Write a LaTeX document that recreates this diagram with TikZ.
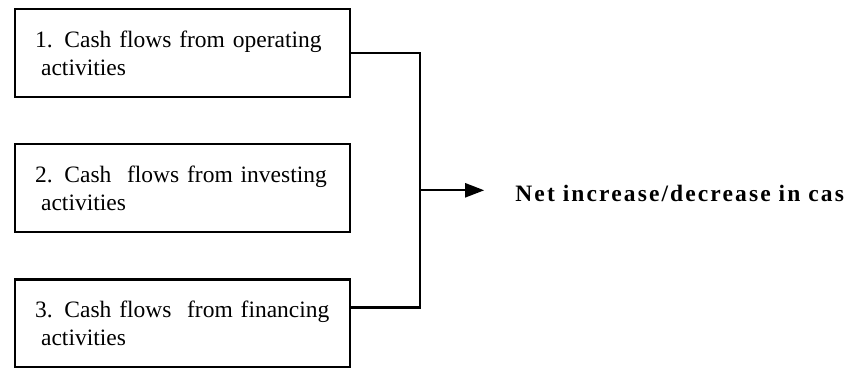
\documentclass[tikz,border=0pt]{standalone}
\usepackage{fontspec}
\setmainfont{Liberation Serif}
\usepackage{tikz}
\usetikzlibrary{arrows.meta,positioning}

\begin{document}
\begin{tikzpicture}[
    x=1pt, y=-1pt,
    node distance=45pt and 69pt,
    every node/.style={font=\fontsize{23.5}{28}\selectfont},
    flowbox/.style={rectangle, draw=black, line width=2.2pt, text width=295pt, inner xsep=20pt, minimum height=88pt, align=left},
    resultlabel/.style={inner sep=0pt, anchor=west, font=\fontsize{23.5}{28}\selectfont\bfseries\addfontfeature{LetterSpace=9}},
    wire/.style={line width=2.2pt, draw=black},
    arr/.style={-{Triangle[length=19pt, width=14pt]}, line width=2.2pt, draw=black, shorten >=31pt}
]
\useasboundingbox (0,0) rectangle (850,367);

\node[flowbox, anchor=north west] (operating) at (14,8) {1. Cash flows from operating\\\hspace{6pt}activities};
\node[flowbox, below=of operating] (investing) {2. Cash\ \ flows from investing\\\hspace{6pt}activities};
\node[flowbox, below=of investing] (financing) {3. Cash flows\ \ from financing\\\hspace{6pt}activities};

\coordinate[right=of investing, yshift=-2pt] (bus);
\node[resultlabel, right=95pt of bus, yshift=-3pt] (netcash) {Net increase/decrease in cas};

\draw[wire] (operating.east) -| (bus);
\draw[wire] ([yshift=16pt]financing.east) -| (bus);
\draw[arr] (bus) -- (bus -| netcash.west);

\end{tikzpicture}
\end{document}
